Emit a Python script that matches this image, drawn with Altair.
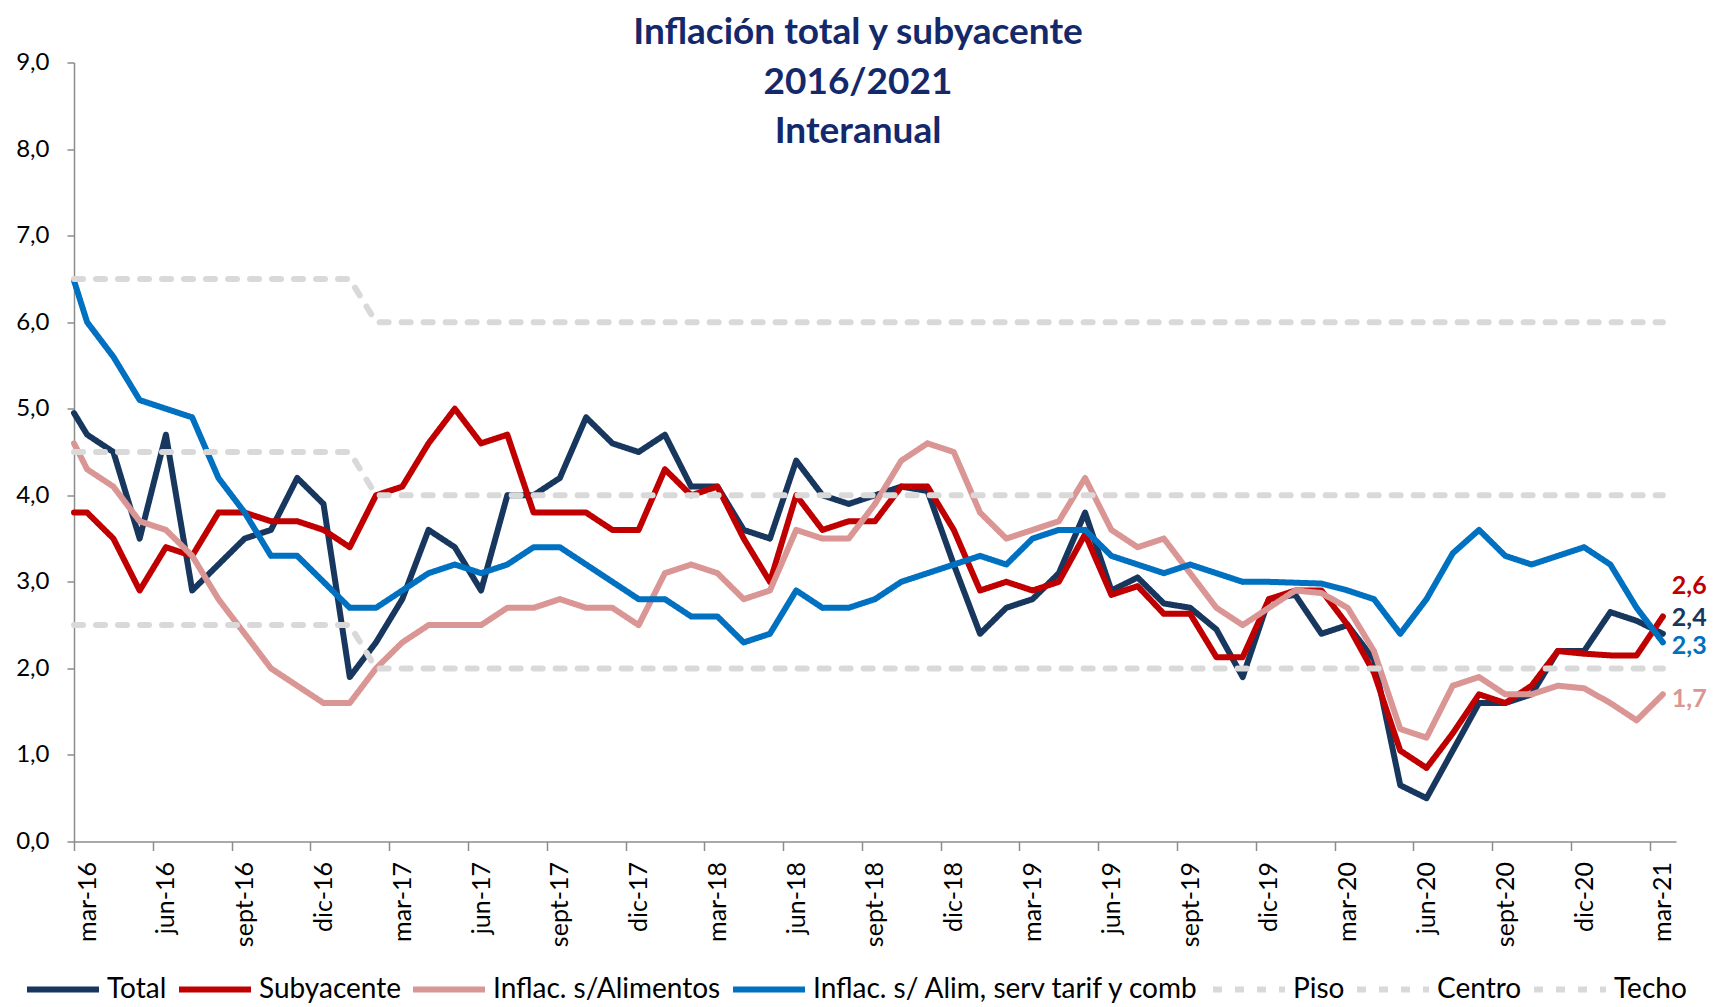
import altair as alt
import pandas as pd

# ---------------- data ----------------
meses_ene = ["ene", "feb", "mar", "abr", "may", "jun", "jul", "ago", "sept", "oct", "nov", "dic"]
categorias = [f"{meses_ene[(2 + k) % 12]}-{16 + (2 + k) // 12}" for k in range(61)]  # mar-16 .. mar-21
etiquetas_eje = categorias[::3]

series = ["Total", "Subyacente", "Inflac. s/Alimentos", "Inflac. s/ Alim, serv tarif y comb",
          "Piso", "Centro", "Techo"]
colores = ["#17375E", "#C00000", "#DA9694", "#0070C0", "#D9D9D9", "#D9D9D9", "#D9D9D9"]

total = [4.7, 4.5, 3.5, 4.7, 2.9, 3.2, 3.5, 3.6, 4.2, 3.9,
         1.9, 2.3, 2.8, 3.6, 3.4, 2.9, 4.0, 4.0, 4.2, 4.9,
         4.6, 4.5, 4.7, 4.1, 4.1, 3.6, 3.5, 4.4, 4.0, 3.9,
         4.0, 4.1, 4.05, 3.2, 2.4, 2.7, 2.8, 3.1, 3.8, 2.9,
         3.05, 2.75, 2.7, 2.45, 1.9, 2.8, 2.85, 2.4, 2.5, 2.1,
         0.65, 0.5, 1.05, 1.6, 1.6, 1.7, 2.2, 2.2, 2.65, 2.55,
         2.4]
subyacente = [3.8, 3.5, 2.9, 3.4, 3.3, 3.8, 3.8, 3.7, 3.7, 3.6,
              3.4, 4.0, 4.1, 4.6, 5.0, 4.6, 4.7, 3.8, 3.8, 3.8,
              3.6, 3.6, 4.3, 4.0, 4.1, 3.5, 3.0, 4.0, 3.6, 3.7,
              3.7, 4.1, 4.1, 3.6, 2.9, 3.0, 2.9, 3.0, 3.55, 2.85,
              2.95, 2.63, 2.63, 2.13, 2.13, 2.8, 2.9, 2.9, 2.5, 1.95,
              1.05, 0.85, 1.25, 1.7, 1.6, 1.8, 2.2, 2.17, 2.15, 2.15,
              2.6]
sin_alimentos = [4.3, 4.1, 3.7, 3.6, 3.3, 2.8, 2.4, 2.0, 1.8, 1.6,
                 1.6, 2.0, 2.3, 2.5, 2.5, 2.5, 2.7, 2.7, 2.8, 2.7,
                 2.7, 2.5, 3.1, 3.2, 3.1, 2.8, 2.9, 3.6, 3.5, 3.5,
                 3.9, 4.4, 4.6, 4.5, 3.8, 3.5, 3.6, 3.7, 4.2, 3.6,
                 3.4, 3.5, 3.1, 2.7, 2.5, 2.7, 2.9, 2.87, 2.7, 2.2,
                 1.3, 1.2, 1.8, 1.9, 1.7, 1.7, 1.8, 1.77, 1.6, 1.4,
                 1.7]
sin_alim_serv = [6.0, 5.6, 5.1, 5.0, 4.9, 4.2, 3.8, 3.3, 3.3, 3.0,
                 2.7, 2.7, 2.9, 3.1, 3.2, 3.1, 3.2, 3.4, 3.4, 3.2,
                 3.0, 2.8, 2.8, 2.6, 2.6, 2.3, 2.4, 2.9, 2.7, 2.7,
                 2.8, 3.0, 3.1, 3.2, 3.3, 3.2, 3.5, 3.6, 3.6, 3.3,
                 3.2, 3.1, 3.2, 3.1, 3.0, 3.0, 2.99, 2.98, 2.9, 2.8,
                 2.4, 2.8, 3.33, 3.6, 3.3, 3.2, 3.3, 3.4, 3.2, 2.7,
                 2.3]
piso = [2.5] * 11 + [2.0] * 50
centro = [4.5] * 11 + [4.0] * 50
techo = [6.5] * 11 + [6.0] * 50

# value where each line meets the left edge of the plot
borde_izq = [4.95, 3.8, 4.6, 6.48, 2.5, 4.5, 6.5]

valores = [total, subyacente, sin_alimentos, sin_alim_serv, piso, centro, techo]
titulo = ["Inflación total y subyacente", "2016/2021", "Interanual"]

# ---------------- table ----------------
filas = []
for s, vals, b in zip(series, valores, borde_izq):
    filas.append({"serie": s, "pos": 0.0, "valor": b})
    for k, v in enumerate(vals):
        filas.append({"serie": s, "pos": k + 0.5, "valor": v})
df = pd.DataFrame(filas)

dashes = [[1, 0]] * 4 + [[9, 13]] * 3
anchos = [6, 6, 6, 6, 5, 5, 5]

label_expr = "[" + ",".join(f"'{e}'" for e in etiquetas_eje) + "][round(datum.value/3)]"

x_enc = alt.X("pos:Q",
              scale=alt.Scale(domain=[0, 61], nice=False, zero=False),
              axis=alt.Axis(values=list(range(0, 61, 3)), labelExpr=label_expr,
                            labelAngle=-90, labelOffset=13.1, tickSize=9, labelPadding=11,
                            labelFont="Lato", labelFontSize=25, labelColor="#000000",
                            labelOverlap=False, labelFlush=False, labelBound=False,
                            domainColor="#8C8C8C", tickColor="#8C8C8C",
                            domainWidth=1.5, tickWidth=1.5, grid=False, title=None))
y_enc = alt.Y("valor:Q",
              scale=alt.Scale(domain=[0, 9], nice=False, zero=True),
              axis=alt.Axis(values=list(range(10)),
                            labelExpr="replace(format(datum.value,'.1f'),'.',',')",
                            tickSize=7, labelPadding=18, labelFont="Lato", labelFontSize=24,
                            labelColor="#000000", domainColor="#8C8C8C", tickColor="#8C8C8C",
                            domainWidth=1.5, tickWidth=1.5, grid=False, title=None))

lineas = alt.Chart(df).mark_line(strokeCap="round", strokeJoin="round").encode(
    x=x_enc,
    y=y_enc,
    color=alt.Color("serie:N", scale=alt.Scale(domain=series, range=colores), title=None),
    strokeDash=alt.StrokeDash("serie:N", scale=alt.Scale(domain=series, range=dashes), title=None),
    strokeWidth=alt.StrokeWidth("serie:N", scale=alt.Scale(domain=series, range=anchos), title=None),
)

# end-of-line value labels
desplaz = {"Total": -16, "Subyacente": -30, "Inflac. s/Alimentos": 5,
           "Inflac. s/ Alim, serv tarif y comb": 4}
capas = [lineas]
for s, vals, c in zip(series[:4], valores[:4], colores[:4]):
    d = pd.DataFrame({"pos": [60.5], "valor": [vals[-1]],
                      "txt": [f"{vals[-1]:.1f}".replace(".", ",")]})
    capas.append(
        alt.Chart(d).mark_text(align="left", baseline="middle", dx=9, dy=desplaz[s],
                               font="Lato", fontSize=25, fontWeight="bold", color=c)
        .encode(x="pos:Q", y="valor:Q", text="txt:N")
    )

tit = alt.Chart(pd.DataFrame({"a": [0]})).mark_text(
    text=titulo, align="center", baseline="alphabetic", font="Lato", fontSize=37,
    fontWeight="bold", lineHeight=49.5, color="#14296B"
).encode(x=alt.value(784), y=alt.value(-18.5))
capas.append(tit)

chart = alt.layer(*capas).properties(
    width=1602, height=779,
    padding={"left": 66, "top": 54.5, "right": 34, "bottom": 161.5},
    autosize=alt.AutoSizeParams(type="none"),
).configure_view(stroke=None).configure_legend(
    orient="none", legendX=-50, legendY=888, direction="horizontal",
    symbolType="stroke", symbolSize=5184, symbolStrokeWidth=6,
    labelFont="Lato", labelFontSize=28, labelColor="#000000", labelLimit=700, labelOffset=5,
    columnPadding=0, padding=0,
)

chart.save("out.html", embed_options={"renderer": "svg", "actions": False})
